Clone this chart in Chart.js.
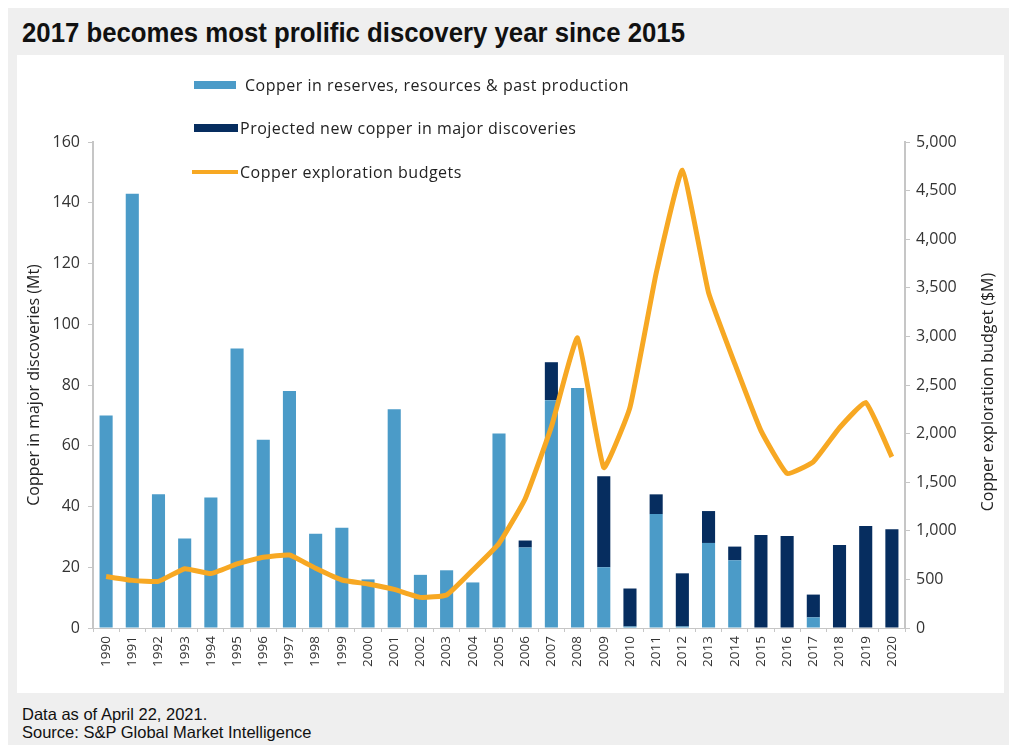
<!DOCTYPE html>
<html>
<head>
<meta charset="utf-8">
<script src="https://cdn.jsdelivr.net/npm/chart.js@4.4.1/dist/chart.umd.min.js"></script>
<style>
  html, body { margin: 0; padding: 0; background: #fff; }
  body { width: 1009px; height: 745px; position: relative; overflow: hidden; }
  .frame { position: absolute; left: 8px; top: 8px; width: 1001px; height: 737px; background: #efefef; }
  .title {
    position: absolute; left: 22px; top: 17px; white-space: nowrap;
    font-family: 'Liberation Sans', Arial, sans-serif;
    font-weight: bold; font-size: 28px; color: #111;
    transform: scaleX(0.92); transform-origin: left top;
  }
  .panel { position: absolute; left: 17px; top: 55px; width: 987px; height: 638px; background: #fff; }
  .legend { position: absolute; left: 192px; top: 70px; font-family: 'Open Sans', sans-serif; font-size: 16px; letter-spacing: 0.5px; color: #222; }
  .legend div { position: absolute; white-space: nowrap; height: 20px; line-height: 20px; }
  .legend span.sw { position: absolute; top: 6px; height: 8px; }
  .footer {
    position: absolute; left: 22px; top: 705px; white-space: nowrap;
    font-family: 'Liberation Sans', Arial, sans-serif;
    font-size: 16.5px; line-height: 18px; color: #111;
  }
</style>
</head>
<body>
<div class="frame"></div>
<div class="title">2017 becomes most prolific discovery year since 2015</div>
<div class="panel"><canvas id="chart" width="987" height="638"></canvas></div>
<div class="legend">
  <div style="left:0; top:5px;"><span class="sw" style="left:2px; width:42px; background:#4b9bc8;"></span><span style="margin-left:53px;">Copper in reserves, resources &amp; past production</span></div>
  <div style="left:0; top:48px;"><span class="sw" style="left:2px; width:44px; background:#062d5f;"></span><span style="margin-left:48px;">Projected new copper in major discoveries</span></div>
  <div style="left:0; top:92px;"><span class="sw" style="left:0; top:8px; height:4px; width:46px; background:#f7a823;"></span><span style="margin-left:48px;">Copper exploration budgets</span></div>
</div>
<div class="footer">Data as of April 22, 2021.<br>Source: S&amp;P Global Market Intelligence</div>

<script>
'use strict';

const years = [
  '1990', '1991', '1992', '1993', '1994', '1995', '1996', '1997', '1998', '1999',
  '2000', '2001', '2002', '2003', '2004', '2005', '2006', '2007', '2008', '2009',
  '2010', '2011', '2012', '2013', '2014', '2015', '2016', '2017', '2018', '2019', '2020'
];

// Mt, light blue part of each bar
const reservesMt = [
  70, 143, 44, 29.5, 43, 92, 62, 78, 31, 33,
  16, 72, 17.5, 19, 15, 64, 26.5, 75, 79, 20,
  0.5, 37.5, 0.5, 28, 22.3, 0, 0, 3.5, 0, 0, 0
];

// Mt, dark part stacked on top
const projectedMt = [
  0, 0, 0, 0, 0, 0, 0, 0, 0, 0,
  0, 0, 0, 0, 0, 0, 2.3, 12.5, 0, 30,
  12.5, 6.5, 17.5, 10.5, 4.5, 30.6, 30.3, 7.5, 27.3, 33.6, 32.5
];

// $M, right axis
const budgetsM = [
  530, 490, 480, 610, 560, 660, 727, 751, 614, 494,
  453, 398, 315, 340, 597, 870, 1330, 2070, 2985, 1650,
  2270, 3650, 4710, 3450, 2720, 2030, 1590, 1710, 2060, 2320, 1760
];

const axisColor = '#c6c6c6';
const tickFont = { family: "'Open Sans', sans-serif", size: 16 };

const rightTitle = {
  id: 'rightTitle',
  afterDraw(chart) {
    const ctx = chart.ctx;
    const area = chart.chartArea;
    ctx.save();
    ctx.translate(area.right + 83, (area.top + area.bottom) / 2 + 7);
    ctx.rotate(-Math.PI / 2);
    ctx.font = "16px 'Open Sans', sans-serif";
    ctx.fillStyle = '#222';
    ctx.textAlign = 'center';
    ctx.textBaseline = 'middle';
    ctx.fillText('Copper exploration budget ($M)', 0, 0);
    ctx.restore();
  }
};

new Chart(document.getElementById('chart'), {
  type: 'bar',
  data: {
    labels: years,
    datasets: [
      {
        type: 'line',
        label: 'Copper exploration budgets',
        data: budgetsM,
        yAxisID: 'y1',
        borderColor: '#f7a823',
        borderWidth: 5,
        pointRadius: 0,
        tension: 0.12,
        order: 0
      },
      {
        label: 'Copper in reserves, resources & past production',
        data: reservesMt,
        backgroundColor: '#4b9bc8',
        stack: 'cu',
        order: 1
      },
      {
        label: 'Projected new copper in major discoveries',
        data: projectedMt,
        backgroundColor: '#062d5f',
        stack: 'cu',
        order: 1
      }
    ]
  },
  plugins: [rightTitle],
  options: {
    responsive: false,
    animation: false,
    layout: { padding: { top: 87, left: 0, right: 0, bottom: 0 } },
    datasets: { bar: { categoryPercentage: 1, barPercentage: 0.5 } },
    plugins: {
      legend: { display: false },
      tooltip: { enabled: false }
    },
    scales: {
      x: {
        stacked: true,
        grid: { display: true, drawOnChartArea: false, drawTicks: true, tickLength: 4, color: axisColor },
        border: { display: true, color: axisColor, width: 1 },
        ticks: { color: '#333', font: { family: "'Open Sans', sans-serif", size: 13.5 }, minRotation: 90, maxRotation: 90, padding: 4, autoSkip: false },
        afterFit(scale) { scale.height = 65; }
      },
      y: {
        stacked: true,
        min: 0,
        max: 160,
        ticks: { stepSize: 20, color: '#333', font: tickFont, padding: 8 },
        grid: { display: true, drawOnChartArea: false, drawTicks: true, tickLength: 5, color: axisColor },
        border: { display: true, color: axisColor, width: 2 },
        title: {
          display: true,
          text: 'Copper in major discoveries (Mt)',
          color: '#222',
          font: { family: "'Open Sans', sans-serif", size: 16 },
          padding: { top: 8, bottom: 0 }
        },
        afterFit(scale) { scale.width = 76; }
      },
      y1: {
        position: 'right',
        min: 0,
        max: 5000,
        ticks: { stepSize: 500, color: '#333', font: tickFont, padding: 6 },
        grid: { display: true, drawOnChartArea: false, drawTicks: true, tickLength: 5, color: axisColor },
        border: { display: true, color: axisColor, width: 2 },
        afterFit(scale) { scale.width = 99; }
      }
    }
  }
});
</script>
</body>
</html>
